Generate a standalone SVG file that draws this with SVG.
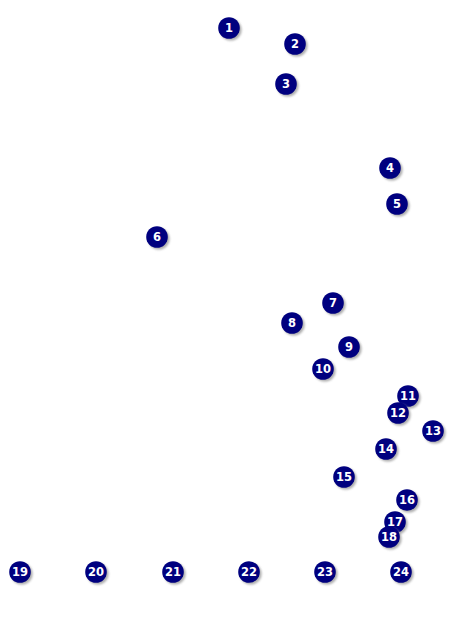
<svg xmlns="http://www.w3.org/2000/svg" width="475" height="642" viewBox="0 0 475 642">
<style>
.sh{fill:#9a9a9a;opacity:0.8}
.c{fill:#00007f}
.t{fill:#ffffff;font-family:"DejaVu Sans","Liberation Sans",sans-serif;font-weight:bold;font-size:11.5px;text-anchor:middle}
</style>
<defs>
<filter id="b" x="-50%" y="-50%" width="200%" height="200%"><feGaussianBlur stdDeviation="1"/></filter>
<g id="dot"><circle class="sh" cx="1.8" cy="1.8" r="10.8" filter="url(#b)"/><circle class="c" r="10.8"/></g>
</defs>
<rect width="475" height="642" fill="#ffffff"/>
<g id="connectors"></g>
<g id="n1" transform="translate(229,28)"><use href="#dot"/><text class="t" y="4">1</text></g>
<g id="n2" transform="translate(295,44)"><use href="#dot"/><text class="t" y="4">2</text></g>
<g id="n3" transform="translate(286,84)"><use href="#dot"/><text class="t" y="4">3</text></g>
<g id="n4" transform="translate(390,168)"><use href="#dot"/><text class="t" y="4">4</text></g>
<g id="n5" transform="translate(397,204)"><use href="#dot"/><text class="t" y="4">5</text></g>
<g id="n6" transform="translate(157,237)"><use href="#dot"/><text class="t" y="4">6</text></g>
<g id="n7" transform="translate(333,303)"><use href="#dot"/><text class="t" y="4">7</text></g>
<g id="n8" transform="translate(292,323)"><use href="#dot"/><text class="t" y="4">8</text></g>
<g id="n9" transform="translate(349,347)"><use href="#dot"/><text class="t" y="4">9</text></g>
<g id="n10" transform="translate(323,369)"><use href="#dot"/><text class="t" y="4">10</text></g>
<g id="n11" transform="translate(408,396)"><use href="#dot"/><text class="t" y="4">11</text></g>
<g id="n12" transform="translate(398,413)"><use href="#dot"/><text class="t" y="4">12</text></g>
<g id="n13" transform="translate(433,431)"><use href="#dot"/><text class="t" y="4">13</text></g>
<g id="n14" transform="translate(386,449)"><use href="#dot"/><text class="t" y="4">14</text></g>
<g id="n15" transform="translate(344,477)"><use href="#dot"/><text class="t" y="4">15</text></g>
<g id="n16" transform="translate(407,500)"><use href="#dot"/><text class="t" y="4">16</text></g>
<g id="n17" transform="translate(395,522)"><use href="#dot"/><text class="t" y="4">17</text></g>
<g id="n18" transform="translate(389,537)"><use href="#dot"/><text class="t" y="4">18</text></g>
<g id="n19" transform="translate(20,572)"><use href="#dot"/><text class="t" y="4">19</text></g>
<g id="n20" transform="translate(96,572)"><use href="#dot"/><text class="t" y="4">20</text></g>
<g id="n21" transform="translate(173,572)"><use href="#dot"/><text class="t" y="4">21</text></g>
<g id="n22" transform="translate(249,572)"><use href="#dot"/><text class="t" y="4">22</text></g>
<g id="n23" transform="translate(325,572)"><use href="#dot"/><text class="t" y="4">23</text></g>
<g id="n24" transform="translate(401,572)"><use href="#dot"/><text class="t" y="4">24</text></g>
</svg>
